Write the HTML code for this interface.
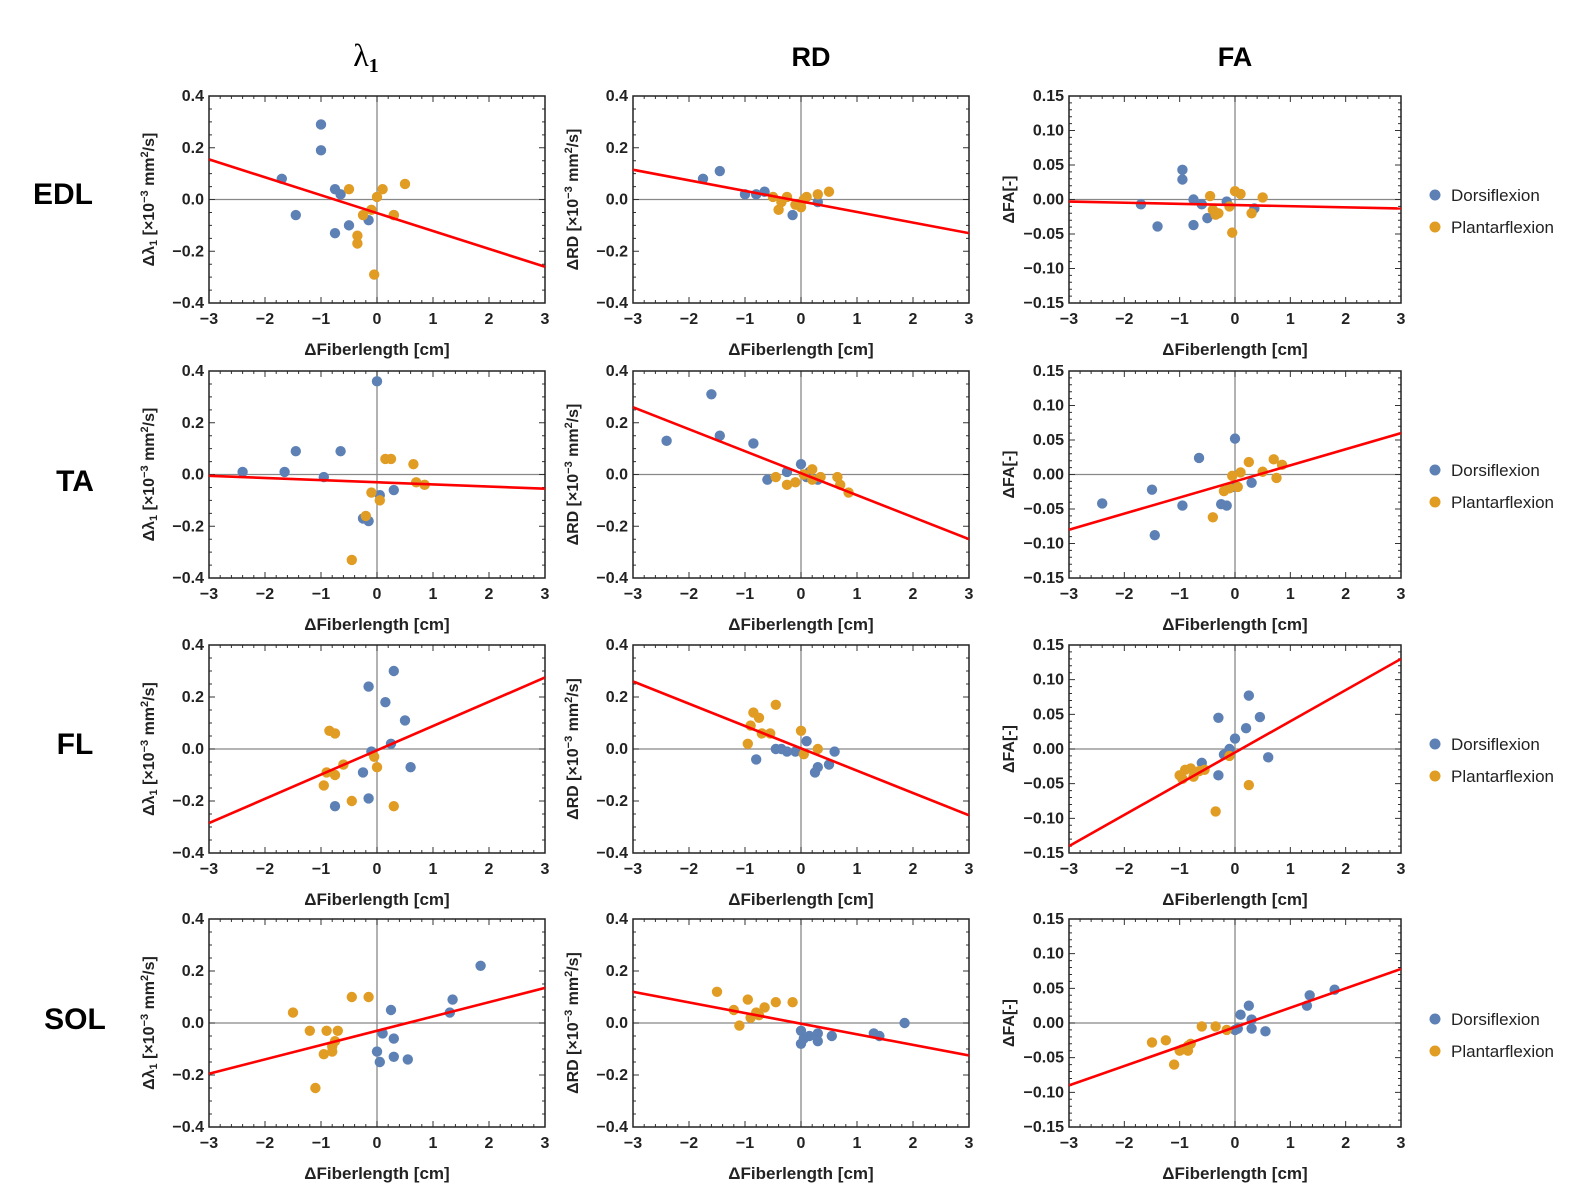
<!DOCTYPE html>
<html><head><meta charset="utf-8"><style>
html,body{margin:0;padding:0;background:#fff;}
svg{display:block;font-family:"Liberation Sans",sans-serif;}
</style></head><body>
<svg id="fig" width="1571" height="1188" viewBox="0 0 1571 1188">
<text x="366" y="66" font-family="Liberation Serif,serif" font-size="32" text-anchor="middle">λ<tspan font-size="20" dy="6" font-weight="bold">1</tspan></text>
<text x="811" y="66" font-size="27" font-weight="bold" text-anchor="middle">RD</text>
<text x="1235" y="66" font-size="27" font-weight="bold" text-anchor="middle">FA</text>
<text x="63" y="204" font-size="30" font-weight="bold" text-anchor="middle">EDL</text>
<text x="75" y="491" font-size="30" font-weight="bold" text-anchor="middle">TA</text>
<text x="75" y="754" font-size="30" font-weight="bold" text-anchor="middle">FL</text>
<text x="75" y="1029" font-size="30" font-weight="bold" text-anchor="middle">SOL</text>
</svg>
<script>
// Data: [x, y] pairs per panel, row-major (EDL, TA, FL, SOL) x (lambda1, RD, FA)
const dorsi = [
 [[-1.7,0.08],[-1.45,-0.06],[-1.0,0.29],[-1.0,0.19],[-0.75,0.04],[-0.65,0.02],[-0.75,-0.13],[-0.5,-0.1],[-0.15,-0.08],[0.3,-0.06]],
 [[-1.75,0.08],[-1.45,0.11],[-1,0.02],[-0.8,0.02],[-0.65,0.03],[-0.15,-0.06],[0.3,-0.01]],
 [[-1.7,-0.007],[-1.4,-0.039],[-0.95,0.043],[-0.95,0.029],[-0.75,0.0],[-0.75,-0.037],[-0.6,-0.007],[-0.5,-0.027],[-0.15,-0.003],[0.35,-0.013]],
 [[-2.4,0.01],[-1.65,0.01],[-1.45,0.09],[-0.95,-0.01],[-0.65,0.09],[0,0.36],[0.05,-0.08],[0.3,-0.06],[-0.25,-0.17],[-0.15,-0.18]],
 [[-2.4,0.13],[-1.6,0.31],[-1.45,0.15],[-0.85,0.12],[-0.6,-0.02],[-0.25,0.01],[0,0.04],[0.15,0.01],[0.3,-0.02],[0.1,-0.01]],
 [[-2.4,-0.042],[-1.5,-0.022],[-1.45,-0.088],[-0.95,-0.045],[-0.65,0.024],[-0.25,-0.043],[-0.15,-0.045],[0,0.052],[0.3,-0.012],[-0.05,-0.018]],
 [[-0.75,-0.22],[-0.25,-0.09],[-0.15,-0.19],[-0.15,0.24],[-0.1,-0.01],[0.15,0.18],[0.25,0.02],[0.3,0.3],[0.5,0.11],[0.6,-0.07]],
 [[-0.8,-0.04],[-0.45,0.0],[-0.35,0.0],[-0.25,-0.01],[-0.1,-0.01],[0.1,0.03],[0.25,-0.09],[0.3,-0.07],[0.5,-0.06],[0.6,-0.01]],
 [[-0.6,-0.02],[-0.3,-0.038],[-0.3,0.045],[-0.2,-0.008],[-0.1,0.0],[0.0,0.015],[0.25,0.077],[0.2,0.03],[0.45,0.046],[0.6,-0.012]],
 [[0.0,-0.11],[0.05,-0.15],[0.1,-0.04],[0.25,0.05],[0.3,-0.13],[0.3,-0.06],[0.55,-0.14],[1.3,0.04],[1.35,0.09],[1.85,0.22]],
 [[0.0,-0.03],[0.0,-0.08],[0.05,-0.06],[0.15,-0.05],[0.3,-0.04],[0.3,-0.07],[0.55,-0.05],[1.3,-0.04],[1.4,-0.05],[1.85,0.0]],
 [[0.0,-0.01],[0.05,-0.008],[0.1,0.012],[0.25,0.025],[0.3,0.005],[0.3,-0.008],[0.55,-0.012],[1.3,0.025],[1.35,0.04],[1.8,0.048]]
];
const plantar = [
 [[-0.5,0.04],[-0.35,-0.14],[-0.35,-0.17],[-0.25,-0.06],[-0.1,-0.04],[0,0.01],[0.1,0.04],[0.5,0.06],[0.3,-0.06],[-0.05,-0.29]],
 [[-0.5,0.01],[-0.4,-0.04],[-0.35,-0.01],[-0.25,0.01],[-0.1,-0.02],[0,-0.03],[0.1,0.01],[0.3,0.02],[0.5,0.03],[0.05,0.0]],
 [[-0.45,0.005],[-0.4,-0.015],[-0.35,-0.022],[-0.3,-0.02],[-0.1,-0.01],[0,0.012],[0.1,0.008],[0.5,0.003],[0.3,-0.02],[-0.05,-0.048]],
 [[-0.45,-0.33],[-0.2,-0.16],[-0.1,-0.07],[0.05,-0.1],[0.15,0.06],[0.25,0.06],[0.65,0.04],[0.7,-0.03],[0.85,-0.04]],
 [[-0.45,-0.01],[-0.25,-0.04],[-0.1,-0.03],[0.05,0.0],[0.2,0.02],[0.35,-0.01],[0.65,-0.01],[0.7,-0.04],[0.85,-0.07],[0.2,-0.02]],
 [[-0.4,-0.062],[-0.2,-0.024],[-0.1,-0.02],[-0.05,-0.002],[0.1,0.003],[0.25,0.018],[0.5,0.004],[0.7,0.022],[0.75,-0.005],[0.85,0.014],[0.05,-0.018]],
 [[-0.95,-0.14],[-0.9,-0.09],[-0.85,0.07],[-0.75,0.06],[-0.75,-0.1],[-0.6,-0.06],[-0.45,-0.2],[-0.05,-0.03],[0.0,-0.07],[0.3,-0.22]],
 [[-0.95,0.02],[-0.9,0.09],[-0.85,0.14],[-0.75,0.12],[-0.7,0.06],[-0.55,0.06],[-0.45,0.17],[0.0,0.07],[0.3,0.0],[0.05,-0.02]],
 [[-1.0,-0.038],[-0.95,-0.043],[-0.9,-0.03],[-0.8,-0.028],[-0.75,-0.04],[-0.65,-0.032],[-0.55,-0.03],[-0.35,-0.09],[-0.1,-0.01],[0.25,-0.052]],
 [[-1.5,0.04],[-1.2,-0.03],[-1.1,-0.25],[-0.95,-0.12],[-0.9,-0.03],[-0.8,-0.09],[-0.75,-0.07],[-0.7,-0.03],[-0.45,0.1],[-0.15,0.1],[-0.8,-0.11]],
 [[-1.5,0.12],[-1.2,0.05],[-1.1,-0.01],[-0.95,0.09],[-0.9,0.02],[-0.75,0.03],[-0.65,0.06],[-0.45,0.08],[-0.15,0.08],[-0.8,0.04]],
 [[-1.5,-0.028],[-1.25,-0.025],[-1.1,-0.06],[-1.0,-0.04],[-0.95,-0.038],[-0.85,-0.033],[-0.8,-0.03],[-0.6,-0.005],[-0.35,-0.005],[-0.15,-0.01],[-0.85,-0.04]]
];
// fit line endpoints: y at x=-3 and x=3
const fitLines = [
 [0.155,-0.26],[0.115,-0.13],[-0.003,-0.013],
 [-0.005,-0.055],[0.26,-0.25],[-0.08,0.06],
 [-0.285,0.275],[0.26,-0.255],[-0.14,0.13],
 [-0.195,0.135],[0.12,-0.125],[-0.09,0.078]
];
const xTicks = [-3,-2,-1,0,1,2,3];
const yTicksA = [-0.4,-0.2,0.0,0.2,0.4];
const yTicksFA = [-0.15,-0.10,-0.05,0.00,0.05,0.10,0.15];
const rowNames = ['edl','ta','fl','sol'];
const colNames = ['lambda1','rd','fa'];

const NS='http://www.w3.org/2000/svg';
const svg=document.getElementById('fig');
function mk(tag,attrs,parent){const e=document.createElementNS(NS,tag);for(const k in attrs)e.setAttribute(k,attrs[k]);(parent||svg).appendChild(e);return e;}
const colX=[[209,545],[633,969],[1069,1401]];
const rowY=[[96,303],[371,578],[645,853],[919,1127]];
const blue='#5E81B5', orange='#E19C24';

for(let r=0;r<4;r++)for(let c=0;c<3;c++){
  const i=r*3+c;
  const [x0,x1]=colX[c],[y0,y1]=rowY[r];
  const isFA=c===2;
  const ymin=isFA?-0.15:-0.4, ymax=-ymin;
  const sx=v=>x0+(v+3)/6*(x1-x0);
  const sy=v=>y1-(v-ymin)/(ymax-ymin)*(y1-y0);
  const g=mk('g',{});
  
  
  // axes zero lines
  mk('line',{x1:sx(0),x2:sx(0),y1:y0,y2:y1,stroke:'#888','stroke-width':1.3},g);
  mk('line',{x1:x0,x2:x1,y1:sy(0),y2:sy(0),stroke:'#888','stroke-width':1.3},g);
  // minor ticks
  let tp='';
  for(let k=-30;k<=30;k++){const v=k/10*1;if(k%2)continue;const X=sx(k/10);const L=(k%10===0)?6:3;tp+=`M${X},${y1}v${-L}M${X},${y0}v${L}`;}
  const ystep=isFA?0.01:0.05, nmaj=isFA?5:4;
  const nsteps=Math.round((ymax-ymin)/ystep);
  for(let k=0;k<=nsteps;k++){const v=ymin+k*ystep;const Y=sy(v);const L=(k%nmaj===0)?6:3;tp+=`M${x0},${Y}h${L}M${x1},${Y}h${-L}`;}
  mk('path',{d:tp,stroke:'#333','stroke-width':1,fill:'none'},g);
  mk('rect',{x:x0,y:y0,width:x1-x0,height:y1-y0,fill:'none',stroke:'#222','stroke-width':1.5},g);
  // tick labels
  xTicks.forEach(t=>{const e=mk('text',{x:sx(t),y:y1+21,'font-size':16,'font-weight':'bold','text-anchor':'middle',fill:'#222'},g);e.textContent=(t<0?'\u2212'+(-t):String(t));
    
    });
  const yt=isFA?yTicksFA:yTicksA;
  yt.forEach(t=>{const e=mk('text',{x:x0-5,y:sy(t)+5,'font-size':16,'font-weight':'bold','text-anchor':'end',fill:'#222'},g);const s=Math.abs(t).toFixed(isFA?2:1);e.textContent=(t<-1e-9?'\u2212':'')+s;
    
    });
  // axis titles
  const xt=mk('text',{x:(x0+x1)/2,y:y1+52,'font-size':17,'font-weight':'bold','text-anchor':'middle',fill:'#222'},g);
  xt.textContent='ΔFiberlength [cm]';
  
  
  const yx=x0-55, yc=(y0+y1)/2;
  const yl=mk('text',{x:yx,y:yc,'font-size':16,'font-weight':'bold','text-anchor':'middle',fill:'#222',transform:`rotate(-90 ${yx} ${yc})`},g);
  if(c===0) yl.innerHTML='Δλ<tspan font-size="11" dy="3">1</tspan><tspan dy="-3"> [×10</tspan><tspan font-size="11" dy="-6">−3</tspan><tspan dy="6"> mm</tspan><tspan font-size="11" dy="-6">2</tspan><tspan dy="6">/s]</tspan>';
  else if(c===1) yl.innerHTML='ΔRD [×10<tspan font-size="11" dy="-6">−3</tspan><tspan dy="6"> mm</tspan><tspan font-size="11" dy="-6">2</tspan><tspan dy="6">/s]</tspan>';
  else yl.textContent='ΔFA[-]';
  
  
  // clip
  const cp=mk('clipPath',{id:'cp'+i},g);mk('rect',{x:x0,y:y0,width:x1-x0,height:y1-y0},cp);
  const pg=mk('g',{'clip-path':`url(#cp${i})`},g);
  dorsi[i].forEach(p=>{const d=mk('circle',{cx:sx(p[0]),cy:sy(p[1]),r:5.2,fill:blue},pg);
    
    });
  plantar[i].forEach(p=>{const d=mk('circle',{cx:sx(p[0]),cy:sy(p[1]),r:5.2,fill:orange},pg);
    
    });
  const fl=mk('line',{x1:sx(-3),y1:sy(fitLines[i][0]),x2:sx(3),y2:sy(fitLines[i][1]),stroke:'#f00','stroke-width':2.6},pg);
  
  
}
// legends
for(let r=0;r<4;r++){
  const y=[194,469,743,1018][r];
  const lg=mk('g',{});
  
  
  mk('circle',{cx:1435,cy:y+1,r:5.5,fill:blue},lg);
  const t1=mk('text',{x:1451,y:y+7,'font-size':17,fill:'#222'},lg);t1.textContent='Dorsiflexion';
  
  
  mk('circle',{cx:1435,cy:y+33,r:5.5,fill:orange},lg);
  const t2=mk('text',{x:1451,y:y+39,'font-size':17,fill:'#222'},lg);t2.textContent='Plantarflexion';
  
  
}
</script>
</body></html>
